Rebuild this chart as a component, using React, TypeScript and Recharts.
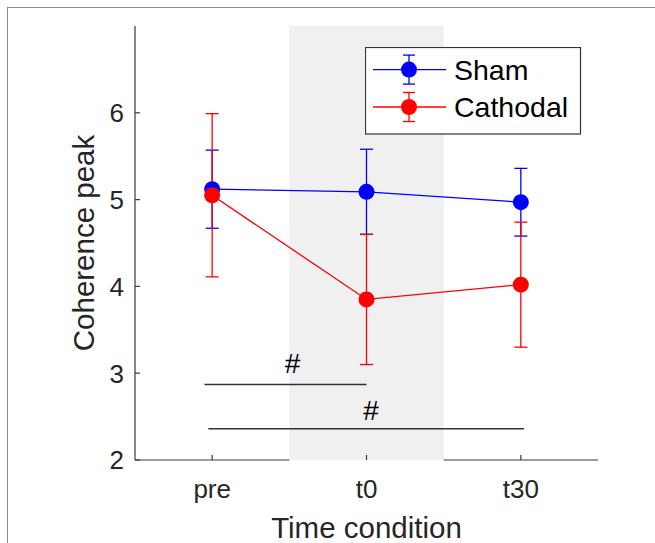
import React from 'react';
import {
  ComposedChart, Line, XAxis, YAxis, ErrorBar, ReferenceArea, ReferenceLine,
  ReferenceDot, Legend, Label,
} from 'recharts';

// ---- data ----
const categories = ['pre', 't0', 't30'];
const positions = [1, 2, 3];
const seriesNames = ['Sham', 'Cathodal'];
const shamMean = [5.12, 5.09, 4.97];
const shamErr = [0.45, 0.49, 0.39];
const cathMean = [5.05, 3.85, 4.02];
const cathErr = [0.94, 0.75, 0.72];
const yTicks = [2, 3, 4, 5, 6];
const xDomain = [0.5, 3.5];
const yDomain = [2, 7];
const shadeRange = [1.5, 2.5];
// significance annotations
const sigY = [2.87, 2.36];
const sigFrom = [0.95, 0.975];
const sigTo = [2.0, 3.02];
const sigMarkX = [1.52, 2.03];
const sigMarkY = [3.12, 2.575];
const sigMark = ['#', '#'];

const rows = positions.map((p, i) => ({
  x: p,
  sham: shamMean[i],
  shamErr: shamErr[i],
  cath: cathMean[i],
  cathErr: cathErr[i],
}));

const FONT = '"Liberation Sans", Arial, Helvetica, sans-serif';
const AXIS = '#3a3a3a';
const TXT = '#262626';
const BLUE = '#0000ff';
const RED = '#ff0000';

const YTick = (props: any) => {
  const { x, y, payload } = props;
  return (
    <g>
      <line x1={x} x2={x + 5} y1={y} y2={y} stroke={AXIS} strokeWidth={1.2} />
      <text x={x - 11} y={y} dy="0.36em" textAnchor="end" fontSize={26} fontFamily={FONT} fill={TXT}>
        {payload.value}
      </text>
    </g>
  );
};

const XTick = (props: any) => {
  const { x, y, payload } = props;
  const idx = positions.indexOf(payload.value);
  return (
    <g>
      <line x1={x} x2={x} y1={y} y2={y - 5} stroke={AXIS} strokeWidth={1.2} />
      <text x={x} y={y + 38} textAnchor="middle" fontSize={26} fontFamily={FONT} fill={TXT}>
        {idx >= 0 ? categories[idx] : ''}
      </text>
    </g>
  );
};

const LegendBox = (props: any) => {
  const items = (props.payload || [])
    .filter((p: any) => p.type !== 'none' && seriesNames.indexOf(p.value) >= 0)
    .slice()
    .sort((a: any, b: any) => seriesNames.indexOf(a.value) - seriesNames.indexOf(b.value));
  const rowsY = [22.6, 60];
  return (
    <svg width={217} height={88} style={{ display: 'block' }}>
      <rect x={0.5} y={0.5} width={215} height={86.5} fill="#ffffff" stroke="#333333" strokeWidth={1.2} />
      {items.map((it: any, i: number) => {
        const yy = rowsY[i];
        const c = it.color;
        return (
          <g key={i}>
            <line x1={8} x2={81} y1={yy} y2={yy} stroke={c} strokeWidth={1.3} />
            <line x1={44} x2={44} y1={yy - 14.5} y2={yy + 14.5} stroke={c} strokeWidth={1.3} />
            <line x1={38} x2={50} y1={yy - 14.5} y2={yy - 14.5} stroke={c} strokeWidth={1.3} />
            <line x1={38} x2={50} y1={yy + 14.5} y2={yy + 14.5} stroke={c} strokeWidth={1.3} />
            <circle cx={44} cy={yy} r={8} fill={c} />
            <text x={89} y={yy} dy="0.355em" fontSize={28.5} fontFamily={FONT} fill="#000">
              {it.value}
            </text>
          </g>
        );
      })}
    </svg>
  );
};

export default function App() {
  return (
    <div style={{ position: 'absolute', left: 0, top: 0, width: 655, height: 543, overflow: 'hidden', background: '#fff' }}>
      <div
        style={{
          position: 'absolute', left: 7, top: 7, right: 0, bottom: 0,
          borderTop: '1.5px solid #8c8c8c', borderLeft: '1.5px solid #8c8c8c',
        }}
      />
      <div style={{ position: 'absolute', left: 0, top: 0 }}>
        <ComposedChart
          width={655}
          height={543}
          data={rows}
          margin={{ top: 26, right: 57, bottom: 0, left: 0 }}
        >
          <ReferenceArea
            x1={shadeRange[0]} x2={shadeRange[1]} y1={yDomain[0]} y2={yDomain[1]}
            fill="#f0f0f0" fillOpacity={1} stroke="none" ifOverflow="visible"
          />
          <XAxis
            type="number" dataKey="x" domain={xDomain} ticks={positions}
            allowDataOverflow axisLine={false} tickLine={false} tickSize={0} tickMargin={0}
            tick={<XTick />} height={83} interval={0}
          >
            <Label
              content={(p: any) => {
                const vb = p.viewBox || {};
                return (
                  <text x={vb.x + vb.width / 2} y={vb.y + 78} textAnchor="middle" fontSize={29.5} fontFamily={FONT} fill={TXT}>
                    Time condition
                  </text>
                );
              }}
            />
          </XAxis>
          <YAxis
            type="number" domain={yDomain} ticks={yTicks} allowDataOverflow
            width={135} axisLine={{ stroke: AXIS, strokeWidth: 1.2 }} tickLine={false}
            tickSize={0} tickMargin={0} tick={<YTick />} interval={0}
          >
            <Label
              content={(p: any) => {
                const vb = p.viewBox || {};
                const cx = vb.x + 83.4;
                const cy = vb.y + vb.height / 2;
                return (
                  <text
                    x={cx} y={cy} dy="0.355em" textAnchor="middle"
                    transform={`rotate(-90, ${cx}, ${cy})`}
                    fontSize={29.5} fontFamily={FONT} fill={TXT}
                  >
                    Coherence peak
                  </text>
                );
              }}
            />
          </YAxis>
          {/* x axis baseline, interrupted by the shaded interval */}
          <ReferenceLine
            segment={[{ x: xDomain[0], y: yDomain[0] }, { x: shadeRange[0], y: yDomain[0] }]}
            stroke={AXIS} strokeWidth={1.2} ifOverflow="visible"
          />
          <ReferenceLine
            segment={[{ x: shadeRange[1], y: yDomain[0] }, { x: xDomain[1], y: yDomain[0] }]}
            stroke={AXIS} strokeWidth={1.2} ifOverflow="visible"
          />
          {sigY.map((yv, i) => (
            <ReferenceLine
              key={'sig' + i}
              segment={[{ x: sigFrom[i], y: yv }, { x: sigTo[i], y: yv }]}
              stroke="#333333" strokeWidth={1.3} ifOverflow="visible"
            />
          ))}
          {sigMarkX.map((xv, i) => (
            <ReferenceDot
              key={'mark' + i}
              x={xv} y={sigMarkY[i]} r={0} ifOverflow="visible"
              shape={(p: any) => (
                <text x={p.cx} y={p.cy} dy="0.35em" textAnchor="middle" fontSize={28} fontFamily={FONT} fill="#000">
                  {sigMark[i]}
                </text>
              )}
            />
          ))}
          <Line
            type="linear" dataKey="sham" name={seriesNames[0]} stroke={BLUE} strokeWidth={1.3}
            dot={{ r: 8, fill: BLUE, stroke: 'none', strokeWidth: 0 }} activeDot={false}
            isAnimationActive={false}
          >
            <ErrorBar dataKey="shamErr" direction="y" width={6.5} stroke={BLUE} strokeWidth={1.3} isAnimationActive={false} />
          </Line>
          <Line
            type="linear" dataKey="cath" name={seriesNames[1]} stroke={RED} strokeWidth={1.3}
            dot={{ r: 8, fill: RED, stroke: 'none', strokeWidth: 0 }} activeDot={false}
            isAnimationActive={false}
          >
            <ErrorBar dataKey="cathErr" direction="y" width={6.5} stroke={RED} strokeWidth={1.3} isAnimationActive={false} />
          </Line>
          <Legend
            layout="vertical" align="center" verticalAlign="middle"
            wrapperStyle={{ left: 365, top: 47, width: 217, height: 88 }}
            content={<LegendBox />}
          />
        </ComposedChart>
      </div>
    </div>
  );
}
